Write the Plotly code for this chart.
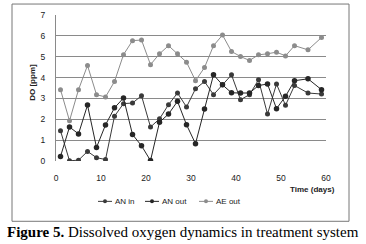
import plotly.graph_objects as go

days = [1, 3, 5, 7, 9, 11, 13, 15, 17, 19, 21, 23, 25, 27, 29, 31, 33, 35, 37, 39,
        41, 43, 45, 47, 49, 51, 53, 56, 59]
an_in = [1.45, 0.01, 0.04, 0.46, 0.16, 0.07, 2.15, 2.75, 2.78, 3.13, 1.63, 2.02, 2.70, 3.26,
         2.59, 3.46, 3.81, 3.18, 3.65, 4.13, 2.94, 3.18, 3.89, 2.25, 3.69, 2.67, 3.62, 3.26, 3.21]
an_out = [0.22, 1.63, 1.30, 2.68, 0.65, 1.73, 2.55, 3.02, 1.27, 0.73, 0.02, 1.86, 2.25, 2.86,
          1.74, 0.83, 2.49, 4.13, 3.65, 3.27, 3.26, 3.26, 3.62, 3.69, 2.51, 3.10, 3.85, 3.94, 3.42]
ae_out = [3.42, 1.93, 3.42, 4.58, 3.18, 3.07, 3.81, 5.10, 5.77, 5.80, 4.62, 5.14, 5.53, 5.14,
          4.74, 3.85, 4.48, 5.53, 6.04, 5.25, 5.01, 4.82, 5.09, 5.14, 5.22, 5.04, 5.53, 5.33, 5.92]
x_ticks = [0, 10, 20, 30, 40, 50, 60]
y_ticks = [0, 1, 2, 3, 4, 5, 6, 7]

series_names = ["AN in", "AN out", "AE out"]
series_vals = [an_in, an_out, ae_out]
series_cols = ["#3a3a3a", "#262626", "#8c8c8c"]
marker_sizes = [5, 5.5, 5]

fig = go.Figure()
for name, vals, col, ms in zip(series_names, series_vals, series_cols, marker_sizes):
    fig.add_trace(go.Scatter(x=days, y=vals, name=name, mode="lines+markers",
                             line=dict(color=col, width=1),
                             marker=dict(color=col, size=ms), showlegend=False))

W, H = 366, 244
L, R, T, B = 56, 326, 15, 161.5
def px(x):
    return (x - L) / (R - L)
def py(y):
    return (B - y) / (B - T)

fig.update_layout(
    width=W, height=H,
    margin=dict(l=L, r=W - R, t=T, b=H - B, pad=0, autoexpand=False),
    paper_bgcolor="white", plot_bgcolor="white",
    font=dict(family="Liberation Sans, Arial, sans-serif", size=8, color="#222"),
    showlegend=False,
    xaxis=dict(range=[0, 60], tickvals=x_ticks, showgrid=False, zeroline=False,
               showline=False, ticks="outside", ticklen=9, tickcolor="rgba(0,0,0,0)",
               tickfont=dict(size=8.5)),
    yaxis=dict(range=[0, 7], tickvals=y_ticks, showgrid=True, gridcolor="#8a8a8a",
               gridwidth=1, zeroline=False, showline=True, linecolor="#8a8a8a",
               linewidth=1, ticks="outside", ticklen=8, tickcolor="rgba(0,0,0,0)",
               tickfont=dict(size=8.5)),
)

# outer chart frame
fig.add_shape(type="rect", xref="paper", yref="paper",
              x0=px(12), x1=px(349), y0=py(222), y1=py(4),
              line=dict(color="#777", width=1), layer="below")

# custom legend
leg_x = [98, 145, 199]
leg_y = 202
for lx, name, col in zip(leg_x, series_names, series_cols):
    fig.add_shape(type="line", xref="paper", yref="paper",
                  x0=px(lx), x1=px(lx + 14), y0=py(leg_y), y1=py(leg_y),
                  line=dict(color=col, width=1))
    fig.add_shape(type="circle", xref="paper", yref="paper",
                  x0=px(lx + 5), x1=px(lx + 9), y0=py(leg_y + 2), y1=py(leg_y - 2),
                  line=dict(color=col, width=0), fillcolor=col)
    fig.add_annotation(text=name, xref="paper", yref="paper", x=px(lx + 15), y=py(leg_y),
                       showarrow=False, xanchor="left", yanchor="middle",
                       font=dict(size=8, color="#222"))

fig.add_annotation(text="<b>DO [ppm]</b>", xref="paper", yref="paper",
                   x=px(33), y=py(83), textangle=-90, showarrow=False,
                   font=dict(size=8, color="#222"), xanchor="center", yanchor="middle")
fig.add_annotation(text="<b>Time (days)</b>", xref="paper", yref="paper",
                   x=px(337), y=py(190), showarrow=False,
                   font=dict(size=8, color="#222"), xanchor="right", yanchor="middle")
fig.add_annotation(text="<b>Figure 5.</b> Dissolved oxygen dynamics in treatment system",
                   xref="paper", yref="paper", x=px(183), y=py(233), showarrow=False,
                   font=dict(family="Liberation Serif, Times New Roman, serif", size=15,
                             color="black"),
                   xanchor="center", yanchor="middle")

fig.write_html("out.html", config={"displayModeBar": False},
               post_script="document.body.style.margin='0';")
